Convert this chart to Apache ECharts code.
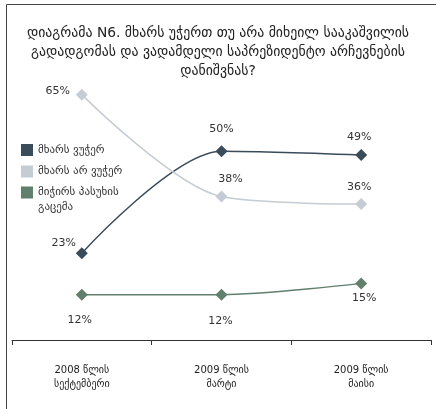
<!DOCTYPE html>
<html>
<head>
<meta charset="utf-8">
<script src="https://cdn.jsdelivr.net/npm/echarts@6/dist/echarts.min.js"></script>
<style>
  html, body { margin: 0; padding: 0; background: #fff; }
  #chart { width: 436px; height: 409px; }
</style>
</head>
<body>
<div id="chart"></div>
<script>
// წყარო: დიაგრამა N6
const titleText = 'დიაგრამა N6. მხარს უჭერთ თუ არა მიხეილ სააკაშვილის\nგადადგომას და ვადამდელი საპრეზიდენტო არჩევნების\nდანიშვნას?';
const categories = ['2008 წლის\nსექტემბერი', '2009 წლის\nმარტი', '2009 წლის\nმაისი'];
const seriesNames = ['მხარს ვუჭერ', 'მხარს არ ვუჭერ', 'მიჭირს პასუხის გაცემა'];
const support = [23, 50, 49];
const notSupport = [65, 38, 36];
const hardToSay = [12, 12, 15];

const colors = ['#3a4c59', '#c6ccd3', '#607f6c'];
const font = 'DejaVu Sans';

// label offsets relative to the symbol centre
const offsets = [
  [[-18, -10], [0, -22], [-2, -18]],
  [[-24, -3], [9, -17], [-2, -17]],
  [[-2, 25], [-1, 26], [3, 15]]
];

const makeSeries = (name, values, idx) => ({
  name: name,
  type: 'line',
  smooth: 0.3,
  symbol: 'diamond',
  symbolSize: 12,
  showAllSymbol: true,
  lineStyle: { color: colors[idx], width: 1.5 },
  itemStyle: { color: colors[idx] },
  emphasis: { disabled: true },
  data: values.map((v, i) => ({
    value: v,
    label: {
      show: true,
      position: 'inside',
      offset: offsets[idx][i],
      formatter: '{c}%',
      color: '#333',
      fontSize: 11,
      fontFamily: font
    }
  }))
});

const legendBase = {
  orient: 'vertical',
  left: 21,
  padding: 0,
  itemWidth: 12,
  itemHeight: 12,
  itemGap: 6.5,
  icon: 'rect',
  selectedMode: false,
  textStyle: { fontSize: 11, color: '#333', fontFamily: font, lineHeight: 15 }
};

const myChart = echarts.init(document.getElementById('chart'));
myChart.setOption({
  animation: false,
  title: {
    text: titleText,
    left: 'center',
    top: 19,
    textStyle: { fontSize: 13.8, fontWeight: 'normal', color: '#222', fontFamily: font, lineHeight: 19 }
  },
  legend: [
    Object.assign({}, legendBase, { top: 142.5, data: [seriesNames[0], seriesNames[1]] }),
    // wrapped item: leading blank line keeps the first line beside the icon
    Object.assign({}, legendBase, {
      top: 170,
      data: [seriesNames[2]],
      formatter: () => '\nმიჭირს პასუხის\nგაცემა'
    })
  ],
  graphic: [
    { type: 'line', shape: { x1: 6.5, y1: 4.5, x2: 436, y2: 4.5 }, style: { stroke: '#444', lineWidth: 1 }, silent: true },
    { type: 'line', shape: { x1: 6.5, y1: 4.5, x2: 6.5, y2: 409 }, style: { stroke: '#444', lineWidth: 1 }, silent: true }
  ],
  grid: { left: 12, right: 5, top: 38, bottom: 69 },
  xAxis: {
    type: 'category',
    data: categories,
    boundaryGap: true,
    offset: 4,
    axisLine: { lineStyle: { color: '#333', width: 1 } },
    axisTick: { show: true, length: 5, lineStyle: { color: '#333' } },
    axisLabel: { margin: 19, fontSize: 10, color: '#222', fontFamily: font, lineHeight: 14 }
  },
  yAxis: {
    type: 'value',
    min: 0,
    max: 80,
    show: false,
    splitLine: { show: false }
  },
  series: [
    makeSeries(seriesNames[0], support, 0),
    makeSeries(seriesNames[1], notSupport, 1),
    makeSeries(seriesNames[2], hardToSay, 2)
  ]
});
</script>
</body>
</html>
